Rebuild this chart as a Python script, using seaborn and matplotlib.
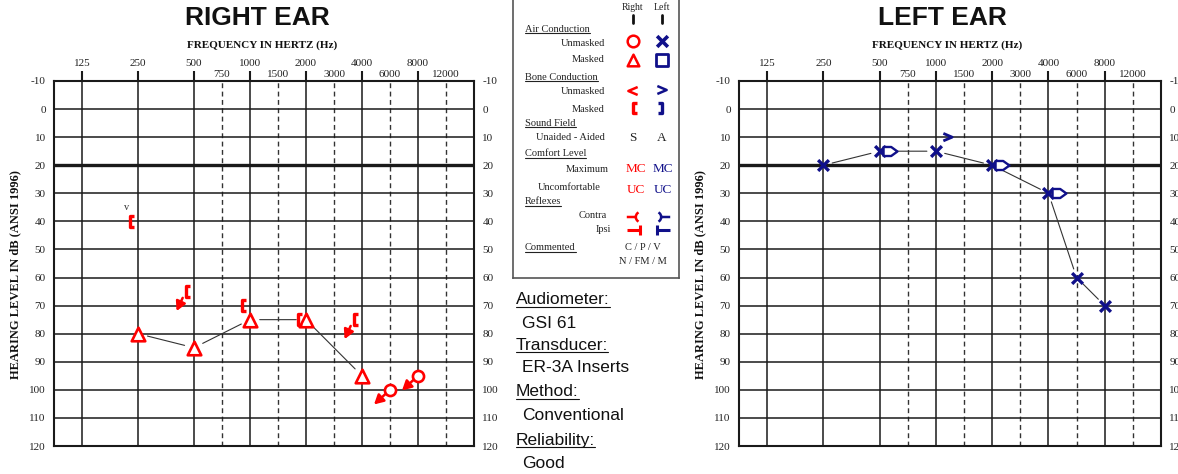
import numpy as np
import matplotlib
matplotlib.use('Agg')
import matplotlib.pyplot as plt
import seaborn as sns
from matplotlib.path import Path
from matplotlib.lines import Line2D

# audiogram scale
OCTAVES = [125, 250, 500, 1000, 2000, 4000, 8000]
HALF_OCTAVES = [750, 1500, 3000, 6000, 12000]
DB_TICKS = list(range(-10, 130, 10))

# right ear
right_masked_ac_hz = [250, 500, 1000, 2000, 4000]
right_masked_ac_db = [80, 85, 75, 75, 95]
right_nr_ac_hz = [6000, 8000]
right_nr_ac_db = [100, 95]
right_masked_bc_hz = [250, 1000, 2000]
right_masked_bc_db = [40, 70, 75]
right_nr_bc_hz = [500, 4000]
right_nr_bc_db = [65, 75]
right_comment_hz = [250]
right_comment_db = [40]
right_comment_txt = ['v']

# left ear
left_ac_hz = [250, 500, 1000, 2000, 4000, 6000, 8000]
left_ac_db = [20, 15, 15, 20, 30, 60, 70]
left_bc_hz = [1000]
left_bc_db = [10]
left_masked_bc_hz = [500, 2000, 4000]
left_masked_bc_db = [15, 20, 30]

info_labels = ['Audiometer:', 'Transducer:', 'Method:', 'Reliability:']
info_values = ['GSI 61', 'ER-3A Inserts', 'Conventional', 'Good']

RED = '#ff0000'
BLUE = '#10108a'
INK = '#1a1a1a'
SERIF = ['Liberation Serif', 'DejaVu Serif']
SANS = ['Liberation Sans', 'DejaVu Sans']

W, H = 1178, 474

sns.set_style('white')
plt.rcParams['font.family'] = SERIF


def freq_pos(f):
    f = np.asarray(f, dtype=float)
    half = np.isin(f, HALF_OCTAVES)
    base = np.where(half, f / 1.5, f)
    return np.log2(base / 125) + 0.5 * half


def open_path(*strokes, closed=False):
    verts, codes = [], []
    for s in strokes:
        verts += list(s)
        codes += [Path.MOVETO] + [Path.LINETO] * (len(s) - 1)
    if closed:
        verts.append(strokes[0][0])
        codes.append(Path.CLOSEPOLY)
    return Path(verts, codes)


def arc(cx, cy, r, a0, a1, n=9):
    t = np.radians(np.linspace(a0, a1, n))
    return list(zip(cx + r * np.cos(t), cy + r * np.sin(t)))


BRACKET_R = open_path([(0.7, 1), (0, 1), (0, -1), (0.7, -1)])
BRACKET_L = open_path([(-0.7, 1), (0, 1), (0, -1), (-0.7, -1)])
CHEV_R = open_path([(-1, 0.85), (1, 0), (-1, -0.85)])
CHEV_L = open_path([(1, 0.85), (-1, 0), (1, -0.85)])
PENTA = open_path([(-1, 0.65), (0.1, 0.65), (1, 0), (0.1, -0.65), (-1, -0.65)], closed=True)
CONTRA_R = open_path([(-1, 0), (0.15, 0)], arc(0.75, 0, 0.65, 120, 240))
CONTRA_L = open_path([(1, 0), (-0.15, 0)], arc(-0.75, 0, 0.65, 60, -60))
IPSI_R = open_path([(-1, 0), (0.6, 0)], [(0.6, 0.6), (0.6, -0.6)])
IPSI_L = open_path([(1, 0), (-0.6, 0)], [(-0.6, 0.6), (-0.6, -0.6)])


def marks(ax, x, y, marker, color, s, lw, face='white', z=4):
    sns.scatterplot(x=x, y=y, marker=marker, s=s, facecolors=face,
                    edgecolor=color, linewidth=lw, ax=ax, zorder=z, legend=False)


def connect(ax, x, y, gap=6.5):
    for i in range(len(x) - 1):
        ax.annotate('', xy=(x[i + 1], y[i + 1]), xytext=(x[i], y[i]),
                    arrowprops=dict(arrowstyle='-', shrinkA=gap, shrinkB=gap,
                                    lw=0.8, color='#333333'), zorder=2)


def no_response(ax, x, y, color, dx, dy, gap):
    for xi, yi in zip(x, y):
        ax.annotate('', xy=(xi, yi), xytext=(dx, dy), textcoords='offset points',
                    arrowprops=dict(arrowstyle='<|-,head_length=0.55,head_width=0.3',
                                    shrinkA=0, shrinkB=gap, lw=1.8, color=color),
                    zorder=4)


def setup_audiogram(ax):
    ax.set_xlim(-0.5, 7.0)
    ax.set_ylim(120, -10)
    for f in OCTAVES:
        ax.axvline(freq_pos(f), color=INK, lw=1.1, zorder=1)
    for f in HALF_OCTAVES:
        ax.axvline(freq_pos(f), color='#333333', lw=1.0, ls=(0, (3.5, 2.5)), zorder=1)
    for d in DB_TICKS:
        ax.axhline(d, color=INK, lw=2.4 if d == 20 else 1.1, zorder=1)
    for sp in ax.spines.values():
        sp.set_visible(True)
        sp.set_color(INK)
        sp.set_linewidth(1.5)
    ax.xaxis.tick_top()
    ax.set_xticks(freq_pos(OCTAVES))
    ax.set_xticklabels([str(f) for f in OCTAVES])
    ax.set_xticks(freq_pos(HALF_OCTAVES), minor=True)
    ax.set_xticklabels([str(f) for f in HALF_OCTAVES], minor=True)
    ax.tick_params(axis='x', which='major', top=True, bottom=False, length=7.5,
                   width=1.5, color=INK, pad=1.5, labelsize=8, labelcolor='#222222')
    ax.tick_params(axis='x', which='minor', top=True, bottom=False, length=0,
                   pad=1.5, labelsize=8, labelcolor='#222222')
    ax.set_yticks(DB_TICKS)
    ax.set_yticklabels([str(d) for d in DB_TICKS])
    ax.tick_params(axis='y', length=0, pad=6, labelsize=8, labelcolor='#222222',
                   labelleft=True, labelright=True)
    ax.set_ylabel('HEARING LEVEL IN dB (ANSI 1996)', fontsize=9, fontweight='bold',
                  color='#111111')
    ax.yaxis.set_label_coords(-0.078, 0.47)
    ax.set_xlabel('')


fig = plt.figure(figsize=(W / 100, H / 100), dpi=100)

ax_r = fig.add_axes([54 / W, 28 / H, 420 / W, 365 / H])
ax_l = fig.add_axes([739 / W, 28 / H, 422 / W, 365 / H])
setup_audiogram(ax_r)
setup_audiogram(ax_l)

# ---- right ear ----
xr = freq_pos(right_masked_ac_hz)
connect(ax_r, xr, right_masked_ac_db, gap=7)
marks(ax_r, xr, right_masked_ac_db, '^', RED, 95, 1.9)

xnr = freq_pos(right_nr_ac_hz)
no_response(ax_r, xnr, right_nr_ac_db, RED, -11.5, -10.5, 4.5)
marks(ax_r, xnr, right_nr_ac_db, 'o', RED, 64, 1.9)

shift_r = -0.15
xbc = freq_pos(right_masked_bc_hz) + shift_r
marks(ax_r, xbc, right_masked_bc_db, BRACKET_R, RED, 70, 2.4, face='none', z=5)

xbnr = freq_pos(right_nr_bc_hz) + shift_r
no_response(ax_r, xbnr, right_nr_bc_db, RED, -6.5, -14, 5)
marks(ax_r, xbnr, right_nr_bc_db, BRACKET_R, RED, 70, 2.4, face='none', z=5)

for f, d, t in zip(right_comment_hz, right_comment_db, right_comment_txt):
    ax_r.annotate(t, xy=(freq_pos(f) + shift_r, d), xytext=(-2, 10),
                  textcoords='offset points', ha='center', va='center',
                  fontsize=7.5, color='#333333', zorder=5)

# ---- left ear ----
xl = freq_pos(left_ac_hz)
connect(ax_l, xl, left_ac_db, gap=6.5)
marks(ax_l, xl, left_ac_db, 'x', BLUE, 60, 2.4, face=BLUE)

shift_l = 0.18
marks(ax_l, freq_pos(left_masked_bc_hz) + shift_l, left_masked_bc_db, PENTA, BLUE, 100, 1.7)
marks(ax_l, freq_pos(left_bc_hz) + 0.21, left_bc_db, CHEV_R, BLUE, 40, 2.0, face='none')

# ---- titles ----
fig.text(257 / W, 1 - 18 / H, 'RIGHT EAR', ha='center', va='center', fontsize=19,
         fontweight='bold', family=SANS, color='#111111')
fig.text(942 / W, 1 - 18 / H, 'LEFT EAR', ha='center', va='center', fontsize=19,
         fontweight='bold', family=SANS, color='#111111')
fig.text(262 / W, 1 - 45 / H, 'FREQUENCY IN HERTZ (Hz)', ha='center', va='center',
         fontsize=8, fontweight='bold', color='#111111')
fig.text(947 / W, 1 - 45 / H, 'FREQUENCY IN HERTZ (Hz)', ha='center', va='center',
         fontsize=8, fontweight='bold', color='#111111')

# ---- symbol key ----
lax = fig.add_axes([513 / W, 1 - 278 / H, 166 / W, 278 / H])
lax.set_xlim(513, 679)
lax.set_ylim(278, 0)
lax.set_xticks([])
lax.set_yticks([])
for name, sp in lax.spines.items():
    sp.set_visible(name != 'top')
    sp.set_color('#555555')
    sp.set_linewidth(1.2)
lax.patch.set_alpha(0)

col_r, col_l = 633, 662
underlined = []


def key_text(x, y, s, ha='right', under=False, size=7.5, color='#222222'):
    t = lax.text(x, y, s, ha=ha, va='center', fontsize=size, color=color)
    if under:
        underlined.append(t)
    return t


key_text(col_r, 7, 'Right', ha='center', size=7)
key_text(col_l, 7, 'Left', ha='center', size=7)
for c in (col_r, col_l):
    lax.plot([c, c], [15, 23], color='#111111', lw=2)

key_text(525, 29, 'Air Conduction', ha='left', under=True)
key_text(605, 43, 'Unmasked')
key_text(605, 60, 'Masked')
key_text(525, 77, 'Bone Conduction', ha='left', under=True)
key_text(605, 92, 'Unmasked')
key_text(605, 109, 'Masked')
key_text(525, 123, 'Sound Field', ha='left', under=True)
key_text(605, 138, 'Unaided - Aided')
key_text(525, 154, 'Comfort Level', ha='left', under=True)
key_text(609, 169, 'Maximum')
key_text(601, 188, 'Uncomfortable')
key_text(525, 202, 'Reflexes', ha='left', under=True)
key_text(607, 216, 'Contra')
key_text(611, 230, 'Ipsi')
key_text(525, 248, 'Commented', ha='left', under=True)
key_text(643, 248, 'C / P / V', ha='center')
key_text(643, 261, 'N / FM / M', ha='center')

key_text(col_r, 138, 'S', ha='center', size=9.5)
key_text(col_l, 138, 'A', ha='center', size=9.5)
key_text(col_r + 3, 169, 'MC', ha='center', size=9.5, color=RED)
key_text(col_l + 1, 169, 'MC', ha='center', size=9.5, color=BLUE)
key_text(col_r + 3, 190, 'UC', ha='center', size=9.5, color=RED)
key_text(col_l + 1, 190, 'UC', ha='center', size=9.5, color=BLUE)

marks(lax, [col_r], [41], 'o', RED, 70, 1.8)
marks(lax, [col_l], [41], 'x', BLUE, 60, 2.6, face=BLUE)
marks(lax, [col_r], [60], '^', RED, 70, 1.8)
marks(lax, [col_l], [60], 's', BLUE, 80, 2.0)
marks(lax, [col_r], [91], CHEV_L, RED, 45, 1.8, face='none')
marks(lax, [col_l], [90], CHEV_R, BLUE, 45, 1.8, face='none')
marks(lax, [col_r], [108], BRACKET_R, RED, 60, 2.4, face='none')
marks(lax, [col_l], [108], BRACKET_L, BLUE, 60, 2.4, face='none')
marks(lax, [col_r + 2], [217], CONTRA_R, RED, 140, 1.8, face='none')
marks(lax, [col_l], [217], CONTRA_L, BLUE, 140, 1.8, face='none')
marks(lax, [col_r + 2], [230], IPSI_R, RED, 140, 2.2, face='none')
marks(lax, [col_l], [230], IPSI_L, BLUE, 140, 2.2, face='none')
lax.set_xlim(513, 679)
lax.set_ylim(278, 0)
lax.set_xlabel('')
lax.set_ylabel('')

# ---- test info ----
row_y = [300, 345, 392, 440]
for lab, val, y in zip(info_labels, info_values, row_y):
    t = fig.text(516 / W, 1 - y / H, lab, ha='left', va='center', fontsize=12.5,
                 family=SANS, color='#111111')
    underlined.append(t)
    fig.text(522 / W, 1 - (y + 23) / H, val, ha='left', va='center', fontsize=12.5,
             family=SANS, color='#111111')

# underline headings once the text sizes are known
fig.canvas.draw()
renderer = fig.canvas.get_renderer()
for t in underlined:
    bb = t.get_window_extent(renderer)
    y0 = bb.y0 + 0.5
    fig.add_artist(Line2D([bb.x0 / W, bb.x1 / W], [y0 / H, y0 / H],
                          transform=fig.transFigure, color=t.get_color(), lw=0.8))

fig.savefig('out.png', dpi=100, facecolor='white')
